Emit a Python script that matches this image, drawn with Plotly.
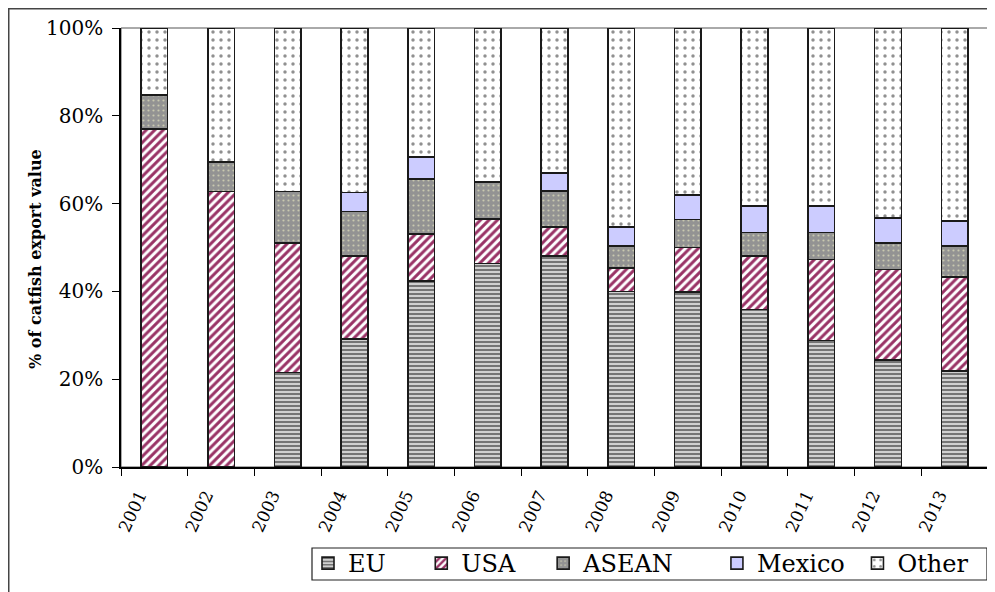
import plotly.graph_objects as go

years = ["2001", "2002", "2003", "2004", "2005", "2006", "2007",
         "2008", "2009", "2010", "2011", "2012", "2013"]
eu     = [0.0, 0.0, 21.5, 29.2, 42.4, 46.4, 48.1, 40.0, 39.9, 35.9, 28.8, 24.4, 21.9]
usa    = [77.0, 62.8, 29.5, 18.9, 10.7, 10.1, 6.6, 5.3, 10.1, 12.1, 18.5, 20.6, 21.4]
asean  = [7.7, 6.7, 11.8, 10.1, 12.5, 8.4, 8.2, 5.0, 6.4, 5.4, 6.1, 6.0, 7.0]
mexico = [0.0, 0.0, 0.0, 4.3, 5.0, 0.0, 4.1, 4.4, 5.5, 6.1, 6.1, 5.7, 5.8]
other  = [15.3, 30.5, 37.2, 37.5, 29.4, 35.1, 33.0, 45.3, 38.1, 40.5, 40.5, 43.3, 43.9]

y_ticks = [0, 20, 40, 60, 80, 100]
y_tick_labels = ["0%", "20%", "40%", "60%", "80%", "100%"]

FONT = "DejaVu Serif, Liberation Serif, serif"
NB = "\u00a0"

series = [
    ("EU", eu, dict(shape="-", fgcolor="#1a1a1a", bgcolor="#d0d0d0", size=4, solidity=0.5), 4),
    ("USA", usa, dict(shape="/", fgcolor="#993366", bgcolor="#ffffff", size=6, solidity=0.5,
                      fgopacity=1), 3),
    ("ASEAN", asean, dict(shape=".", fgcolor="#ffffcc", bgcolor="#939393", size=5, solidity=0.15), 5),
    ("Mexico", mexico, None, 1),
    ("Other", other, dict(shape=".", fgcolor="#222222", bgcolor="#ffffff", size=8, solidity=0.15), 1),
]

fig = go.Figure()
for name, vals, pat, pad in series:
    marker = dict(line=dict(color="#1a1a1a", width=1.6))
    if pat is None:
        marker["color"] = "#ccccff"
    else:
        marker["color"] = pat["bgcolor"]
        marker["pattern"] = pat
    fig.add_trace(go.Bar(x=years, y=vals, name=name + NB * pad, marker=marker))

# page body has an 8px margin; work in figure coordinates
OFF = 8
W, H = 995, 592
L, R, T, B = 113, 15, 20, 133
pw, ph = W - L - R, H - T - B

def px(x_screen):
    return (x_screen - OFF - L) / pw

def py(y_screen):
    return (H - B - (y_screen - OFF)) / ph

fig.update_layout(
    width=W, height=H,
    barmode="stack", bargap=0.6,
    margin=dict(l=L, r=R, t=T, b=B, autoexpand=False),
    paper_bgcolor="white", plot_bgcolor="white",
    font=dict(family=FONT, color="black"),
    showlegend=True,
    legend=dict(
        orientation="h", traceorder="normal",
        x=px(308), y=py(541), xanchor="left", yanchor="top",
        borderwidth=0, bgcolor="rgba(0,0,0,0)",
        font=dict(family=FONT, size=24, color="black"),
    ),
    xaxis=dict(
        type="category", tickson="boundaries",
        ticks="outside", ticklen=7, tickcolor="black", tickwidth=1.2,
        showline=True, linecolor="black", linewidth=1.5,
        showgrid=False, tickangle=-65, ticklabelshift=-15, ticklabelstandoff=10,
        tickfont=dict(family=FONT, size=17, color="black"),
        automargin=False,
    ),
    yaxis=dict(
        range=[0, 100], tickvals=y_ticks, ticktext=y_tick_labels,
        ticks="outside", ticklen=7, tickcolor="black", tickwidth=1.2,
        showline=True, linecolor="black", linewidth=1.5,
        showgrid=False, zeroline=False, ticklabelstandoff=5,
        tickfont=dict(family=FONT, size=20, color="black"),
        automargin=False,
    ),
    annotations=[
        dict(text="% of catfish export value", textangle=-90,
             xref="paper", yref="paper", x=px(35), y=py(259),
             xanchor="center", yanchor="middle", showarrow=False,
             font=dict(family=FONT, size=16, color="black", weight="bold")),
    ],
    shapes=[
        dict(type="rect", xref="paper", yref="paper", x0=0, x1=1, y0=0, y1=1,
             line=dict(color="#555555", width=1), layer="below"),
        dict(type="rect", xref="paper", yref="paper",
             x0=px(8.5), x1=px(1001), y0=py(598), y1=py(8.5),
             line=dict(color="#444444", width=2)),
        # legend frame
        dict(type="rect", xref="paper", yref="paper",
             x0=px(312), x1=px(987), y0=py(580), y1=py(548),
             line=dict(color="#222222", width=1.2), layer="below"),
    ],
)

fig.write_html("out.html")
